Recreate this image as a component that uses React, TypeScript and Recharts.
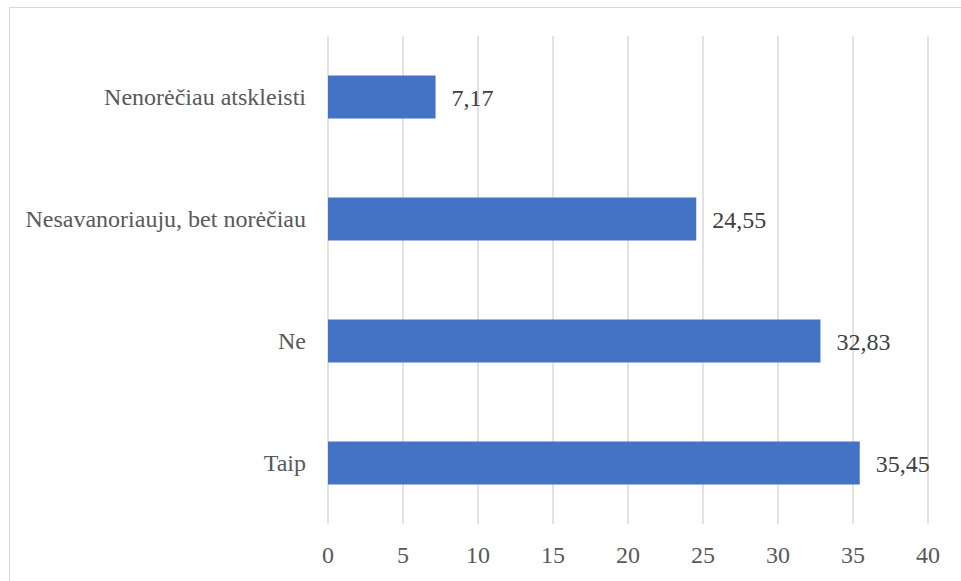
import { Bar, BarChart, CartesianGrid, LabelList, XAxis, YAxis } from "recharts";

const categories = [
  "Nenorėčiau atskleisti",
  "Nesavanoriauju, bet norėčiau",
  "Ne",
  "Taip"
];
const values = [7.17, 24.55, 32.83, 35.45];
const xTicks = [0, 5, 10, 15, 20, 25, 30, 35, 40];

const data = categories.map((name, i) => ({ name, value: values[i] }));

const FONT = '"Liberation Serif", "Times New Roman", serif';
const FS = 24;

const formatValue = (v: any) => Number(v).toFixed(2).replace(".", ",");

// force the serif face even if some other stylesheet wins
const serifRef = (el: SVGTextElement | null) => {
  if (el) el.style.setProperty("font-family", FONT, "important");
};

const css = `
html body #root .chart-box svg text.serif-text,
html body #root .chart-box svg text.serif-text tspan {
  font-family: "Liberation Serif", "Times New Roman", serif !important;
}
`;

function XTick(props: any) {
  const { x, y, payload } = props;
  return (
    <text
      ref={serifRef}
      className="serif-text"
      x={x}
      y={y}
      dy={39}
      textAnchor="middle"
      fill="#595959"
      fontSize={FS}
      fontFamily={FONT}
    >
      {payload.value}
    </text>
  );
}

function YTick(props: any) {
  const { x, y, payload } = props;
  return (
    <text
      ref={serifRef}
      className="serif-text"
      x={x}
      y={y}
      dy={7.5}
      textAnchor="end"
      fill="#595959"
      fontSize={FS}
      fontFamily={FONT}
    >
      {payload.value}
    </text>
  );
}

function ValueLabel(props: any) {
  const { x, y, width, height, value } = props;
  return (
    <text
      ref={serifRef}
      className="serif-text"
      x={Number(x) + Number(width) + 16}
      y={Number(y) + Number(height) / 2}
      dy={8.5}
      textAnchor="start"
      fill="#404040"
      fontSize={FS}
      fontFamily={FONT}
    >
      {formatValue(value)}
    </text>
  );
}

export default function App() {
  return (
    <div
      className="chart-box"
      style={{
        position: "absolute",
        left: 0,
        top: 0,
        width: 961,
        height: 581,
        overflow: "hidden",
        background: "#fff",
        fontFamily: FONT
      }}
    >
      <style>{css}</style>
      <div
        style={{
          position: "absolute",
          left: 9,
          top: 7,
          width: 1100,
          height: 1100,
          border: "1.5px solid #d9d9d9"
        }}
      />
      <div style={{ position: "absolute", left: 0, top: 0 }}>
        <BarChart
          width={961}
          height={581}
          data={data}
          layout="vertical"
          margin={{ top: 36, right: 33, bottom: 17, left: 10 }}
          barCategoryGap="32.4%"
          style={{ fontFamily: FONT }}
        >
          <CartesianGrid horizontal={false} stroke="#d9d9d9" strokeWidth={1.5} />
          <XAxis
            type="number"
            domain={[0, 40]}
            ticks={xTicks}
            interval={0}
            axisLine={false}
            tickLine={false}
            tickSize={0}
            tickMargin={0}
            height={40}
            tick={<XTick />}
          />
          <YAxis
            type="category"
            dataKey="name"
            width={318}
            axisLine={false}
            tickLine={false}
            tickSize={0}
            tickMargin={22}
            tick={<YTick />}
          />
          <Bar dataKey="value" fill="#4472c4" isAnimationActive={false}>
            <LabelList dataKey="value" content={<ValueLabel />} />
          </Bar>
        </BarChart>
      </div>
    </div>
  );
}
